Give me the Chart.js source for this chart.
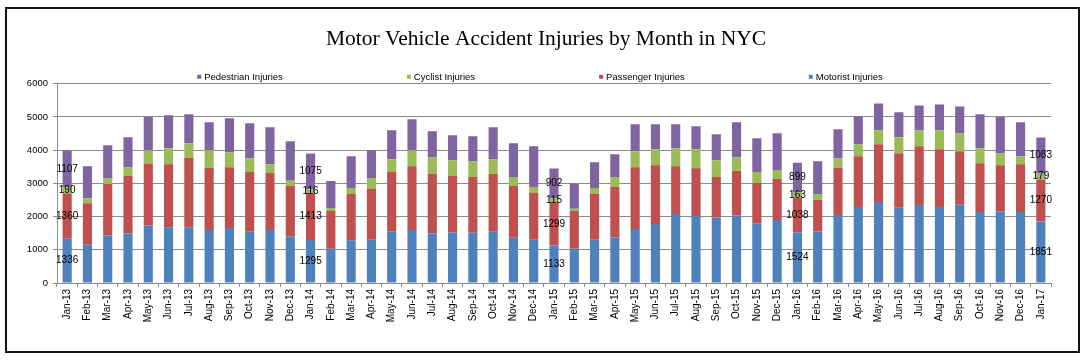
<!DOCTYPE html>
<html>
<head>
  <title>Motor Vehicle Accident Injuries by Month in NYC</title>
  <script src="https://cdn.jsdelivr.net/npm/chart.js"></script>
  <style>
    body { margin: 0; background: #fff; }
    #wrap { position: relative; width: 1092px; height: 363px; }
    #frame { position: absolute; left: 5px; top: 7px; width: 1071px; height: 342px; border: 2px solid #111; pointer-events: none; }
  </style>
</head>
<body>
  <div id="wrap">
    <canvas id="injuryChart" width="1092" height="363"></canvas>
    <div id="frame"></div>
  </div>

  <script>
    const months = [
      'Jan-13','Feb-13','Mar-13','Apr-13','May-13','Jun-13','Jul-13','Aug-13','Sep-13','Oct-13','Nov-13','Dec-13',
      'Jan-14','Feb-14','Mar-14','Apr-14','May-14','Jun-14','Jul-14','Aug-14','Sep-14','Oct-14','Nov-14','Dec-14',
      'Jan-15','Feb-15','Mar-15','Apr-15','May-15','Jun-15','Jul-15','Aug-15','Sep-15','Oct-15','Nov-15','Dec-15',
      'Jan-16','Feb-16','Mar-16','Apr-16','May-16','Jun-16','Jul-16','Aug-16','Sep-16','Oct-16','Nov-16','Dec-16',
      'Jan-17'
    ];

    const motorist = [
      1336, 1150, 1430, 1490, 1730, 1680, 1680, 1600, 1660, 1540, 1600, 1400,
      1295, 1030, 1290, 1300, 1560, 1600, 1490, 1520, 1510, 1540, 1360, 1300,
      1133, 1030, 1300, 1370, 1630, 1780, 2080, 2020, 1970, 2030, 1800, 1900,
      1524, 1550, 2050, 2290, 2440, 2270, 2350, 2290, 2360, 2140, 2150, 2140,
      1851
    ];
    const passenger = [
      1360, 1250, 1550, 1730, 1870, 1900, 2090, 1870, 1830, 1800, 1710, 1520,
      1413, 1140, 1390, 1530, 1780, 1920, 1790, 1700, 1680, 1740, 1560, 1410,
      1299, 1140, 1380, 1520, 1860, 1770, 1440, 1440, 1220, 1340, 1210, 1230,
      1038, 950, 1420, 1530, 1740, 1640, 1770, 1740, 1610, 1470, 1400, 1440,
      1270
    ];
    const cyclist = [
      190, 150, 180, 260, 400, 480, 440, 530, 450, 420, 270, 180,
      116, 90, 180, 330, 390, 480, 510, 480, 480, 450, 270, 180,
      115, 70, 180, 300, 480, 480, 540, 570, 510, 420, 330, 270,
      163, 180, 290, 360, 420, 480, 480, 570, 540, 450, 360, 240,
      179
    ];
    const pedestrian = [
      1107, 970, 990, 910, 1000, 990, 870, 840, 1020, 1050, 1110, 1170,
      1075, 810, 960, 840, 870, 930, 780, 750, 750, 960, 1020, 1230,
      902, 760, 780, 690, 810, 750, 720, 690, 780, 1050, 1020, 1110,
      899, 990, 870, 840, 810, 750, 750, 780, 810, 1020, 1090, 1020,
      1083
    ];

    const yTicks = [0, 1000, 2000, 3000, 4000, 5000, 6000];
    // bars that carry value labels (every January)
    const labelledBars = [0, 12, 24, 36, 48];
    // legend shows the stack top-down
    const legendOrder = [3, 2, 1, 0];

    const gridColor = '#8c8c8c';
    const sans = '"Liberation Sans", Arial, sans-serif';

    const valueLabels = {
      id: 'valueLabels',
      afterDatasetsDraw(chart) {
        const ctx = chart.ctx;
        ctx.save();
        ctx.font = '10px ' + sans;
        ctx.fillStyle = '#000';
        ctx.textAlign = 'center';
        ctx.textBaseline = 'middle';
        chart.data.datasets.forEach((ds, di) => {
          const meta = chart.getDatasetMeta(di);
          labelledBars.forEach(i => {
            const bar = meta.data[i];
            ctx.fillText(String(ds.data[i]), bar.x, (bar.y + bar.base) / 2);
          });
        });
        ctx.restore();
      }
    };

    const spreadLegend = {
      id: 'spreadLegend',
      afterDraw(chart) {
        const ctx = chart.ctx;
        const box = 4, gap = 3, spacing = 124;
        ctx.save();
        ctx.font = '9.5px ' + sans;
        const items = legendOrder.map(i => chart.data.datasets[i]);
        const widths = items.map(ds => box + gap + ctx.measureText(ds.label).width);
        const total = widths.reduce((a, b) => a + b, 0) + spacing * (items.length - 1);
        let x = chart.width / 2 - 6 - total / 2;
        const y = chart.chartArea.top - 7;
        ctx.textBaseline = 'middle';
        items.forEach((ds, k) => {
          ctx.fillStyle = ds.backgroundColor;
          ctx.fillRect(x, y - box / 2, box, box);
          ctx.fillStyle = '#000';
          ctx.fillText(ds.label, x + box + gap, y + 0.5);
          x += widths[k] + spacing;
        });
        ctx.restore();
      }
    };

    new Chart(document.getElementById('injuryChart'), {
      type: 'bar',
      data: {
        labels: months,
        datasets: [
          { label: 'Motorist Injuries', data: motorist, backgroundColor: '#4F81BD' },
          { label: 'Passenger Injuries', data: passenger, backgroundColor: '#C0504D' },
          { label: 'Cyclist Injuries', data: cyclist, backgroundColor: '#9BBB59' },
          { label: 'Pedestrian Injuries', data: pedestrian, backgroundColor: '#8064A2' }
        ]
      },
      plugins: [valueLabels, spreadLegend],
      options: {
        responsive: false,
        animation: false,
        devicePixelRatio: 1,
        layout: { padding: 0 },
        datasets: { bar: { categoryPercentage: 1, barPercentage: 0.45 } },
        plugins: {
          legend: { display: false },
          tooltip: { enabled: false },
          title: {
            display: true,
            text: 'Motor Vehicle Accident Injuries by Month in NYC',
            color: '#000',
            font: { family: '"Liberation Serif", "Times New Roman", serif', size: 21.5, weight: 'normal' },
            padding: { top: 26, bottom: 32 }
          }
        },
        scales: {
          x: {
            stacked: true,
            grid: { drawOnChartArea: false, drawTicks: true, tickLength: 4, color: gridColor },
            border: { display: true, color: gridColor },
            ticks: {
              color: '#000',
              font: { family: sans, size: 10 },
              minRotation: 90,
              maxRotation: 90,
              autoSkip: false,
              padding: 2
            },
            afterFit(scale) { scale.height = 80; }
          },
          y: {
            stacked: true,
            min: 0,
            max: 6000,
            afterBuildTicks(scale) { scale.ticks = yTicks.map(v => ({ value: v })); },
            grid: { color: gridColor, tickLength: 4 },
            border: { display: true, color: gridColor },
            ticks: {
              color: '#000',
              font: { family: sans, size: 9.5 },
              padding: 5,
              callback: v => String(v)
            },
            afterFit(scale) { scale.width = 57; }
          },
          // empty right-hand strip so the plot ends where the reference does
          yRight: {
            position: 'right',
            grid: { display: false },
            border: { display: false },
            ticks: { display: false },
            afterFit(scale) { scale.width = 41; }
          }
        }
      }
    });
  </script>
</body>
</html>
